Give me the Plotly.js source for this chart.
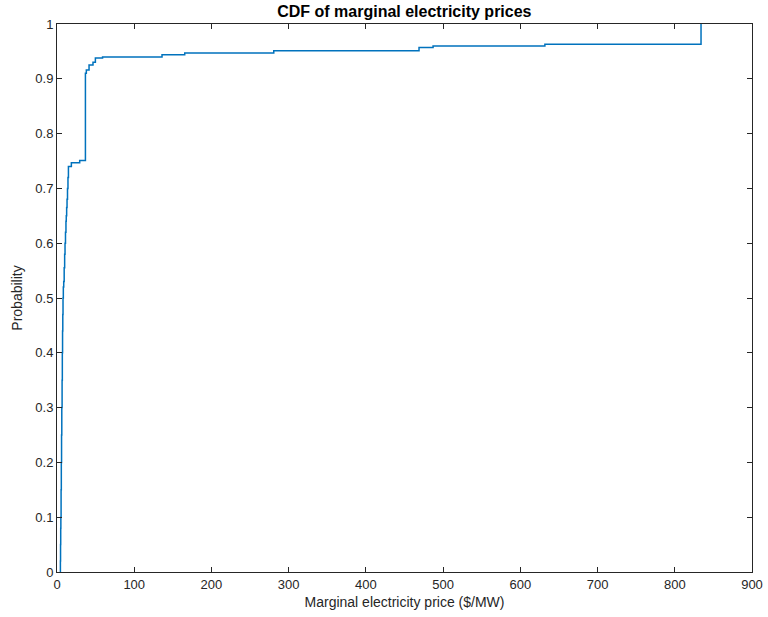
<!DOCTYPE html>
<html>
<head>
<meta charset="utf-8">
<script src="https://cdn.plot.ly/plotly-3.0.1.min.js"></script>
<style>html,body{margin:0;padding:0;background:#fff;}#chart{width:768px;height:617px;}</style>
</head>
<body>
<div id="chart"></div>
<script>
// Empirical CDF step points: price at which the CDF jumps, and the CDF value after the jump
const price = [4.3, 4.4, 4.6, 4.8, 5.0, 5.3, 5.6, 5.9, 6.2, 6.6, 6.9, 7.2, 7.5, 7.8, 8.2, 8.7, 9.3, 9.9, 10.4, 11.0, 11.6, 12.0, 12.5, 13.0, 13.6, 14.2, 14.8, 18.6, 29.4, 36.8, 38.0, 41.5, 46.6, 49.7, 59.0, 136.0, 165.4, 280.7, 468.8, 487.0, 631.8, 834.0];
const prob  = [0.0, 0.02, 0.05, 0.08, 0.1, 0.15, 0.2, 0.25, 0.3, 0.35, 0.4, 0.44, 0.47, 0.5, 0.52, 0.53, 0.555, 0.58, 0.6, 0.62, 0.64, 0.65, 0.665, 0.68, 0.70, 0.72, 0.74, 0.747, 0.751, 0.910, 0.916, 0.925, 0.930, 0.938, 0.940, 0.944, 0.947, 0.951, 0.957, 0.960, 0.963, 1.0];
const xTicks = [0, 100, 200, 300, 400, 500, 600, 700, 800, 900];
const yTicks = [0, 0.1, 0.2, 0.3, 0.4, 0.5, 0.6, 0.7, 0.8, 0.9, 1];

const font = 'Liberation Sans, Arial, Helvetica, sans-serif';
const axisCommon = {
  showgrid: false, zeroline: false, showline: true, mirror: 'ticks',
  linecolor: '#262626', linewidth: 1, ticks: 'inside', ticklen: 5, tickwidth: 1,
  tickcolor: '#262626', tickfont: {family: font, size: 13, color: '#262626'}
};

Plotly.newPlot('chart', [{
  x: price, y: prob, type: 'scatter', mode: 'lines',
  line: {shape: 'hv', color: '#0072BD', width: 1.5},
  hoverinfo: 'skip'
}], {
  width: 768, height: 617,
  margin: {l: 57, r: 16, t: 24, b: 45},
  paper_bgcolor: '#fff', plot_bgcolor: '#fff',
  showlegend: false,
  title: {text: '<b>CDF of marginal electricity prices</b>', font: {family: font, size: 16, color: '#000'}, x: 0.5265, xanchor: 'center', y: 0.981, yanchor: 'middle'},
  xaxis: Object.assign({}, axisCommon, {
    range: [0, 900], tickvals: xTicks, ticktext: xTicks.map(String),
    title: {text: 'Marginal electricity price ($/MW)', font: {family: font, size: 14, color: '#262626'}, standoff: 6}
  }),
  yaxis: Object.assign({}, axisCommon, {
    range: [0, 1], tickvals: yTicks, ticktext: yTicks.map(String),
    title: {text: 'Probability', font: {family: font, size: 14, color: '#262626'}, standoff: 9}
  })
}, {displayModeBar: false, staticPlot: true});
</script>
</body>
</html>
